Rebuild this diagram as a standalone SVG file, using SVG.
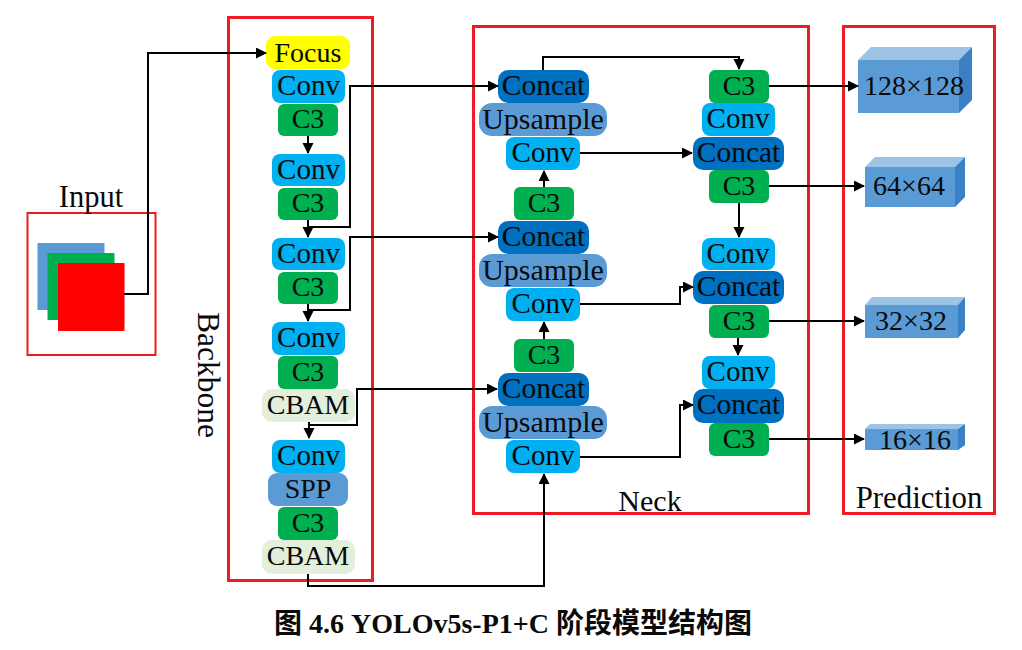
<svg xmlns="http://www.w3.org/2000/svg" width="1022" height="650" viewBox="0 0 1022 650">
<style>
text{font-family:"Liberation Serif","Noto Sans CJK SC",serif;fill:#0a0a0a;text-anchor:middle}
.n text{font-size:28px;transform:translateY(-1px)}
.n.wide text{font-size:30px;transform:translateY(0)}
.n.cc text{font-size:29.5px}
.n.cv text{font-size:29px}
.l{font-size:30px}
.frame{fill:none;stroke:#ed1c24;stroke-width:3}
.conv{fill:#00b0f0}.c3{fill:#00b050}.concat{fill:#0070c0}.up{fill:#5b9bd5}.cbam{fill:#e2efda}.focus{fill:#ffff00}
#connectors path{fill:none;stroke:#000;stroke-width:2;marker-end:url(#a)}
.front{fill:#5b9bd5}.top{fill:#9dc3e6}.side{fill:#3a80c5}
</style>
<defs>
<marker id="a" markerUnits="userSpaceOnUse" markerWidth="12" markerHeight="12" refX="10" refY="5.500" orient="auto"><path d="M0 0L11 5.500L0 11Z" fill="#000"/></marker>
</defs>
<rect width="1022" height="650" fill="#fff"/>
<g id="frames">
<rect class="frame" x="228.500" y="17.500" width="144" height="563"/>
<rect class="frame" x="473.500" y="26.500" width="335" height="487"/>
<rect class="frame" x="843.500" y="26.500" width="151" height="487"/>
<rect class="frame" x="27.500" y="213" width="128" height="142" style="stroke-width:2"/>
</g>
<g id="input">
<rect x="37.500" y="243" width="67" height="67" fill="#5b9bd5"/>
<rect x="47.500" y="253" width="67" height="67" fill="#00b050"/>
<rect x="58" y="263" width="66.500" height="68" fill="#ff0000"/>
<text class="l" x="91" y="207" style="font-size:30.500px">Input</text>
</g>
<g id="backbone-label"><text class="l" transform="translate(198 375) rotate(90)" style="font-size:31.500px">Backbone</text></g>
<g id="neck-label"><text class="l" x="650" y="511">Neck</text></g>
<g id="prediction-label"><text class="l" x="919" y="508" style="font-size:30.800px">Prediction</text></g>

<g id="focus" class="n"><rect class="focus" x="266" y="36" width="84" height="33" rx="9"/><text x="308" y="63">Focus</text></g>
<g id="b-conv1" class="n cv"><rect class="conv" x="272" y="70" width="73" height="33" rx="8"/><text x="308.500" y="96">Conv</text></g>
<g id="b-c31" class="n"><rect class="c3" x="278" y="104" width="60" height="32" rx="6"/><text x="308" y="129">C3</text></g>
<g id="b-conv2" class="n cv"><rect class="conv" x="272" y="154" width="73" height="32" rx="8"/><text x="308.500" y="180">Conv</text></g>
<g id="b-c32" class="n"><rect class="c3" x="278" y="188" width="60" height="32" rx="6"/><text x="308" y="213">C3</text></g>
<g id="b-conv3" class="n cv"><rect class="conv" x="272" y="238" width="73" height="32" rx="8"/><text x="308.500" y="264">Conv</text></g>
<g id="b-c33" class="n"><rect class="c3" x="278" y="272" width="60" height="32" rx="6"/><text x="308" y="297">C3</text></g>
<g id="b-conv4" class="n cv"><rect class="conv" x="272" y="322" width="73" height="33" rx="8"/><text x="308.500" y="348">Conv</text></g>
<g id="b-c34" class="n"><rect class="c3" x="278" y="356" width="60" height="33" rx="6"/><text x="308" y="382">C3</text></g>
<g id="b-cbam1" class="n"><rect class="cbam" x="262" y="389" width="93" height="33" rx="10"/><text x="308" y="415">CBAM</text></g>
<g id="b-conv5" class="n cv"><rect class="conv" x="272" y="440" width="73" height="33" rx="8"/><text x="308.500" y="466">Conv</text></g>
<g id="b-spp" class="n"><rect class="up" x="268" y="473" width="80" height="33" rx="9"/><text x="308" y="499">SPP</text></g>
<g id="b-c35" class="n"><rect class="c3" x="278" y="507" width="60" height="33" rx="6"/><text x="308" y="533">C3</text></g>
<g id="b-cbam2" class="n"><rect class="cbam" x="262" y="540" width="93" height="34" rx="10"/><text x="308" y="566">CBAM</text></g>

<g id="n-concat1" class="n cc"><rect class="concat" x="498" y="70" width="91" height="33" rx="10"/><text x="543.500" y="96">Concat</text></g>
<g id="n-up1" class="n wide"><rect class="up" x="479" y="103" width="128" height="33" rx="13"/><text x="543" y="129">Upsample</text></g>
<g id="n-conv1" class="n cv"><rect class="conv" x="506" y="137" width="74" height="33" rx="8"/><text x="543" y="163">Conv</text></g>
<g id="n-c31" class="n"><rect class="c3" x="514" y="187" width="60" height="33" rx="6"/><text x="544" y="213">C3</text></g>
<g id="n-concat2" class="n cc"><rect class="concat" x="498" y="221" width="91" height="33" rx="10"/><text x="543.500" y="247">Concat</text></g>
<g id="n-up2" class="n wide"><rect class="up" x="479" y="254" width="128" height="33" rx="13"/><text x="543" y="280">Upsample</text></g>
<g id="n-conv2" class="n cv"><rect class="conv" x="506" y="288" width="74" height="33" rx="8"/><text x="543" y="314">Conv</text></g>
<g id="n-c32" class="n"><rect class="c3" x="514" y="339" width="60" height="33" rx="6"/><text x="544" y="365">C3</text></g>
<g id="n-concat3" class="n cc"><rect class="concat" x="498" y="373" width="91" height="33" rx="10"/><text x="543.500" y="399">Concat</text></g>
<g id="n-up3" class="n wide"><rect class="up" x="479" y="406" width="128" height="33" rx="13"/><text x="543" y="432">Upsample</text></g>
<g id="n-conv3" class="n cv"><rect class="conv" x="506" y="440" width="74" height="33" rx="8"/><text x="543" y="466">Conv</text></g>

<g id="r-c31" class="n"><rect class="c3" x="709" y="70" width="60" height="33" rx="6"/><text x="739" y="96">C3</text></g>
<g id="r-conv1" class="n cv"><rect class="conv" x="702" y="103" width="73" height="33" rx="8"/><text x="738" y="129">Conv</text></g>
<g id="r-concat1" class="n cc"><rect class="concat" x="693" y="137" width="91" height="33" rx="10"/><text x="738.500" y="163">Concat</text></g>
<g id="r-c32" class="n"><rect class="c3" x="709" y="170" width="60" height="33" rx="6"/><text x="739" y="196">C3</text></g>
<g id="r-conv2" class="n cv"><rect class="conv" x="702" y="238" width="73" height="32" rx="8"/><text x="738" y="264">Conv</text></g>
<g id="r-concat2" class="n cc"><rect class="concat" x="693" y="271" width="91" height="33" rx="10"/><text x="738.500" y="297">Concat</text></g>
<g id="r-c33" class="n"><rect class="c3" x="709" y="305" width="60" height="33" rx="6"/><text x="739" y="331">C3</text></g>
<g id="r-conv3" class="n cv"><rect class="conv" x="702" y="356" width="73" height="33" rx="8"/><text x="738" y="382">Conv</text></g>
<g id="r-concat3" class="n cc"><rect class="concat" x="693" y="389" width="91" height="34" rx="10"/><text x="738.500" y="415">Concat</text></g>
<g id="r-c34" class="n"><rect class="c3" x="709" y="423" width="60" height="33" rx="6"/><text x="739" y="449">C3</text></g>

<g id="p-128" class="n"><path class="top" d="M858 60L871 47H972L959 60Z"/><path class="side" d="M959 60L972 47V100L959 113Z"/><rect class="front" x="858" y="60" width="101" height="53"/><text x="914" y="96">128×128</text></g>
<g id="p-64" class="n"><path class="top" d="M865 167L875 157H965L955 167Z"/><path class="side" d="M955 167L965 157V197L955 207Z"/><rect class="front" x="865" y="167" width="90" height="40"/><text x="909" y="196">64×64</text></g>
<g id="p-32" class="n"><path class="top" d="M865 305L872 297H965L958 305Z"/><path class="side" d="M958 305L965 297V330L958 338Z"/><rect class="front" x="865" y="305" width="93" height="33"/><text x="911" y="331">32×32</text></g>
<g id="p-16" class="n"><path class="top" d="M865 429L870 424H965L958 429Z"/><path class="side" d="M958 429L965 424V445L958 450Z"/><rect class="front" x="865" y="429" width="93" height="21"/><text x="915" y="450">16×16</text></g>

<g id="connectors">
<path d="M124 294H148V53H266"/>
<path d="M308 136V153"/>
<path d="M308 220V237"/>
<path d="M308 304V321"/>
<path d="M309 422V438"/>
<path d="M308 227H350V86H498"/>
<path d="M308 310H350V237H498"/>
<path d="M308 425H357V389H497"/>
<path d="M308 574V586H544V474"/>
<path d="M543 70V57H739V69"/>
<path d="M544 187V171"/>
<path d="M544 339V322"/>
<path d="M580 153H692"/>
<path d="M580 304H680V287H693"/>
<path d="M580 457H680V405H693"/>
<path d="M739 203V237"/>
<path d="M738 338V355"/>
<path d="M769 86H858"/>
<path d="M769 186H864"/>
<path d="M769 321H864"/>
<path d="M769 439H864"/>
</g>
<g id="caption"><text x="513" y="633" font-size="28" font-weight="700">图 4.6 YOLOv5s-P1+C 阶段模型结构图</text></g>
</svg>
